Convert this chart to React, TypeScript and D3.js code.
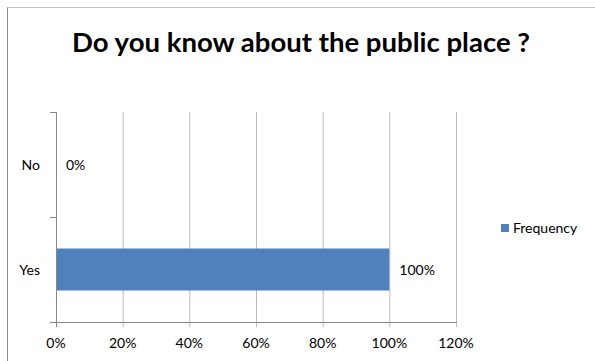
import React from "react";
import * as d3 from "d3";

const categories = ["No", "Yes"];
const values = [0, 1];
const xTicks = [0, 0.2, 0.4, 0.6, 0.8, 1.0, 1.2];
const seriesName = "Frequency";
const title = "Do you know about the public place ?";

const W = 595;
const H = 361;
const plot = { left: 56, right: 456, top: 112, bottom: 322 };
const FONT = "Lato, 'Open Sans', sans-serif";

export default function App() {
  const x = d3.scaleLinear().domain([0, 1.2]).range([plot.left, plot.right]);
  const y = d3
    .scaleBand<string>()
    .domain(categories)
    .range([plot.top, plot.bottom])
    .paddingInner(0.6)
    .paddingOuter(0.3);
  const band = d3.scaleBand<string>().domain(categories).range([plot.top, plot.bottom]);
  const fmt = d3.format(".0%");
  const boundaries = [plot.top, ...categories.map((c) => (band(c) as number) + band.bandwidth())];

  return (
    <svg
      width={W}
      height={H}
      style={{ position: "absolute", left: 0, top: 0, background: "#fff" }}
      fontFamily={FONT}
    >
      <rect x={0} y={0} width={W} height={H} fill="#fff" />
      {/* chart border */}
      <line x1={7.5} x2={W} y1={7.5} y2={7.5} stroke="#bfbfbf" />
      <line x1={7.5} x2={7.5} y1={7.5} y2={H} stroke="#8a8a8a" />
      <text
        x={301}
        y={52}
        textAnchor="middle"
        fontSize={27}
        fontWeight="bold"
        fill="#000"
        textLength={458}
        lengthAdjust="spacingAndGlyphs"
      >
        {title}
      </text>
      {/* gridlines */}
      {xTicks.map((t) => (
        <line
          key={"g" + t}
          x1={x(t) + 0.5}
          x2={x(t) + 0.5}
          y1={plot.top}
          y2={plot.bottom + 5}
          stroke={t === 0 ? "#868686" : "#bdbdbd"}
        />
      ))}
      {/* y axis ticks */}
      {boundaries.map((b, i) => (
        <line key={"yt" + i} x1={plot.left - 6} x2={plot.left} y1={b + 0.5} y2={b + 0.5} stroke="#868686" />
      ))}
      {/* x axis */}
      <line x1={plot.left - 6} x2={plot.right + 1} y1={plot.bottom + 0.5} y2={plot.bottom + 0.5} stroke="#868686" />
      {/* bars */}
      {categories.map((c, i) => (
        <rect
          key={"b" + c}
          x={x(0) + 1}
          y={y(c)}
          width={Math.max(0, x(values[i]) - x(0) - 1)}
          height={y.bandwidth()}
          fill="#4f81bd"
        />
      ))}
      {/* category labels */}
      {categories.map((c) => (
        <text
          key={"c" + c}
          x={40}
          y={(band(c) as number) + band.bandwidth() / 2 + 5}
          textAnchor="end"
          fontSize={14}
          fill="#000"
        >
          {c}
        </text>
      ))}
      {/* data labels */}
      {categories.map((c, i) => (
        <text
          key={"d" + c}
          x={x(values[i]) + 10}
          y={(band(c) as number) + band.bandwidth() / 2 + 5}
          fontSize={14}
          fill="#000"
        >
          {fmt(values[i])}
        </text>
      ))}
      {/* x tick labels */}
      {xTicks.map((t) => (
        <text key={"xl" + t} x={x(t)} y={348} textAnchor="middle" fontSize={14} fill="#000">
          {fmt(t)}
        </text>
      ))}
      {/* legend */}
      <rect x={501} y={224} width={8} height={8} fill="#4f81bd" />
      <text x={513} y={233} fontSize={14} fill="#000">
        {seriesName}
      </text>
    </svg>
  );
}
